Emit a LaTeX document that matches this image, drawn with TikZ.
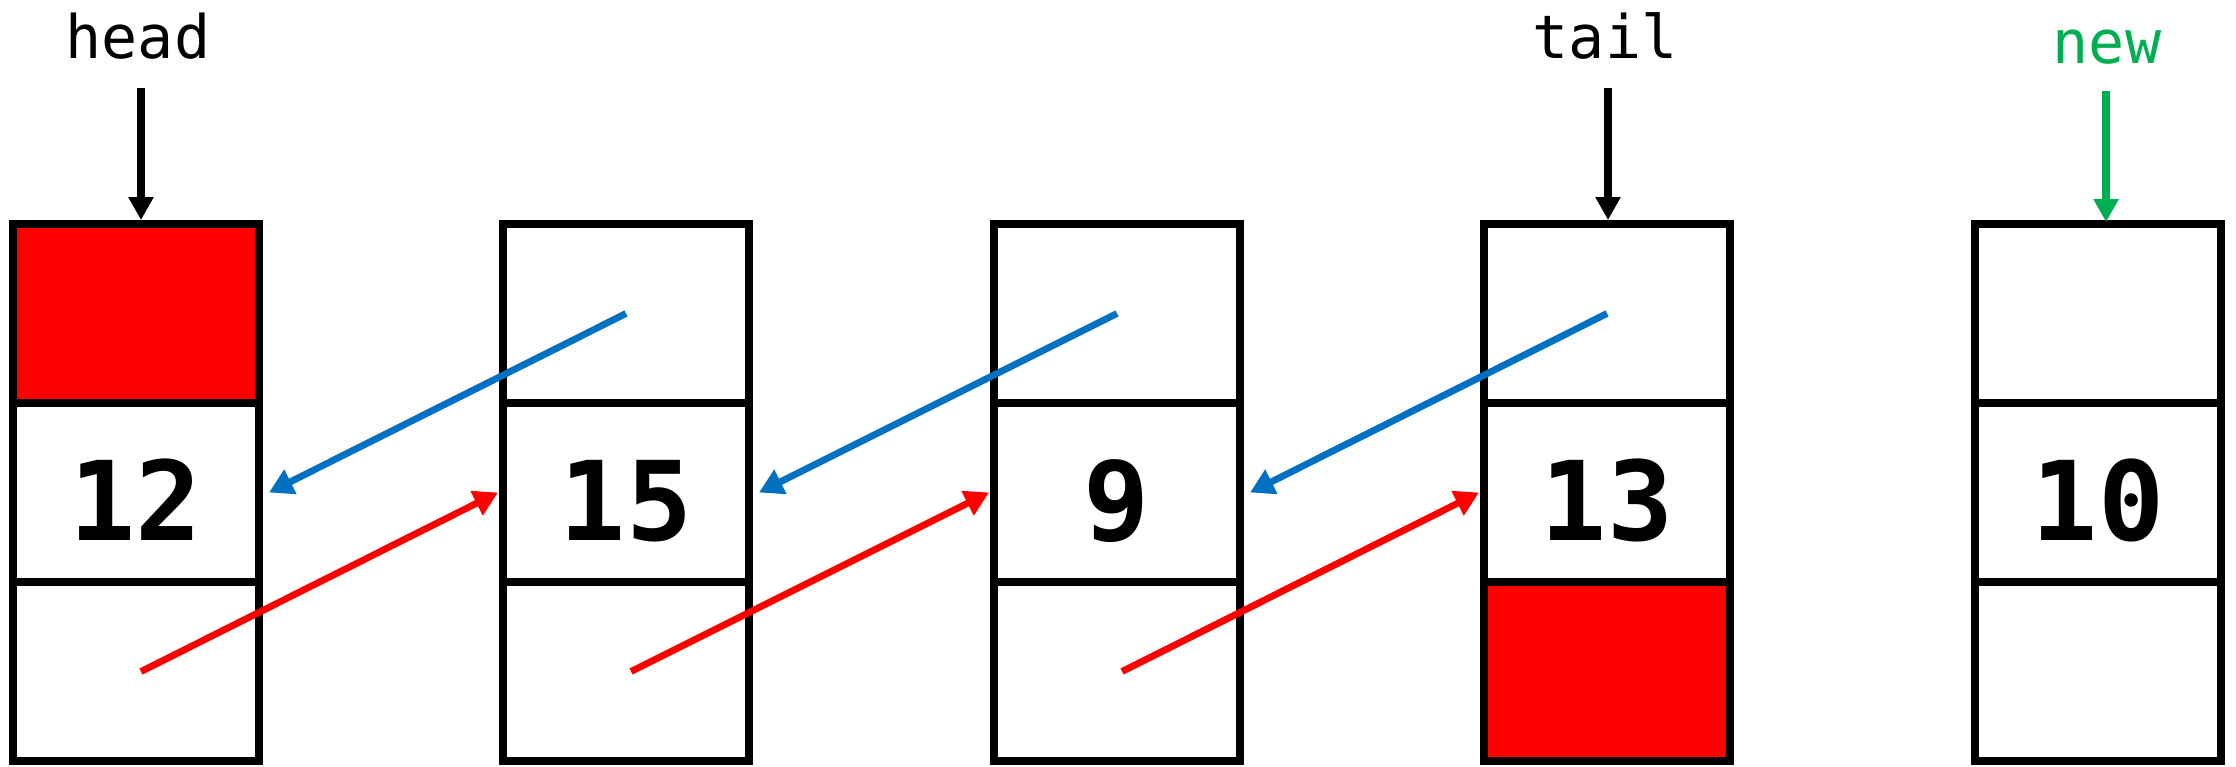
\documentclass[tikz,border=0pt]{standalone}
\usepackage{fontspec}
\setmonofont{DejaVu Sans Mono}
\usetikzlibrary{arrows.meta,calc}
\definecolor{lred}{RGB}{255,0,0}
\definecolor{lblue}{RGB}{0,112,192}
\definecolor{lgreen}{RGB}{0,176,80}
\begin{document}
\begin{tikzpicture}[x=0.5pt,y=-0.5pt,
  cell/.style={draw=black,line width=3.6pt,minimum width=123pt,minimum height=89.5pt,inner sep=0pt,outer sep=0pt},
  redcell/.style={cell,fill=lred},
  num/.style={font=\ttfamily\bfseries\fontsize{55}{60}\selectfont,anchor=base,inner sep=0pt},
  ptrlabel/.style={font=\ttfamily\fontsize{30}{34}\selectfont,anchor=base,inner sep=0pt},
  ptrarrow/.style={line width=4pt,-{Triangle[width=12pt,length=11.5pt]}},
  link/.style={line width=3.4pt,-{Triangle[width=13pt,length=12pt]}},
]
\useasboundingbox (0,0) rectangle (2236,766);

% columns
\foreach \i/\x in {1/136,2/626,3/1117,4/1607,5/2098}{
  \node[cell] (c\i a) at (\x,313.5) {};
  \node[cell] (c\i b) at (\x,492.5) {};
  \node[cell] (c\i c) at (\x,671.5) {};
}
\node[redcell] (r1) at (c1a.center) {};
\node[redcell] (r4) at (c4c.center) {};

% values
\node[num] (n1) at (136,540) {12};
\node[num] (n2) at (626,540) {15};
\node[num] (n3) at (1117,540) {9};
\node[num] (n4) at (1607,540) {13};
\node[num] (n5) at (2098,540) {10};

% pointer labels
\node[ptrlabel] (head) at (138,58) {head};
\node[ptrlabel] (tail) at (1605,58) {tail};
\node[ptrlabel,text=lgreen] (new) at (2107,63) {new};

\coordinate (hs) at (141,88);
\coordinate (ts) at (1608,88);
\coordinate (ns) at (2106,91);
\draw[ptrarrow] (hs) -- ($(hs |- c1a.north)+(0,-4)$);
\draw[ptrarrow] (ts) -- ($(ts |- c4a.north)+(0,-4)$);
\draw[ptrarrow,lgreen] (ns) -- ($(ns |- c5a.north)+(0,-2)$);

% links
\foreach \a/\b in {1/2,2/3,3/4}{
  \draw[link,lblue] (c\b a.center) -- ($(c\a b.east)+(10,0)$);
  \draw[link,lred] ($(c\a c.center)+(5,0)$) -- ($(c\b b.west)+(-5,0)$);
}
\end{tikzpicture}
\end{document}
